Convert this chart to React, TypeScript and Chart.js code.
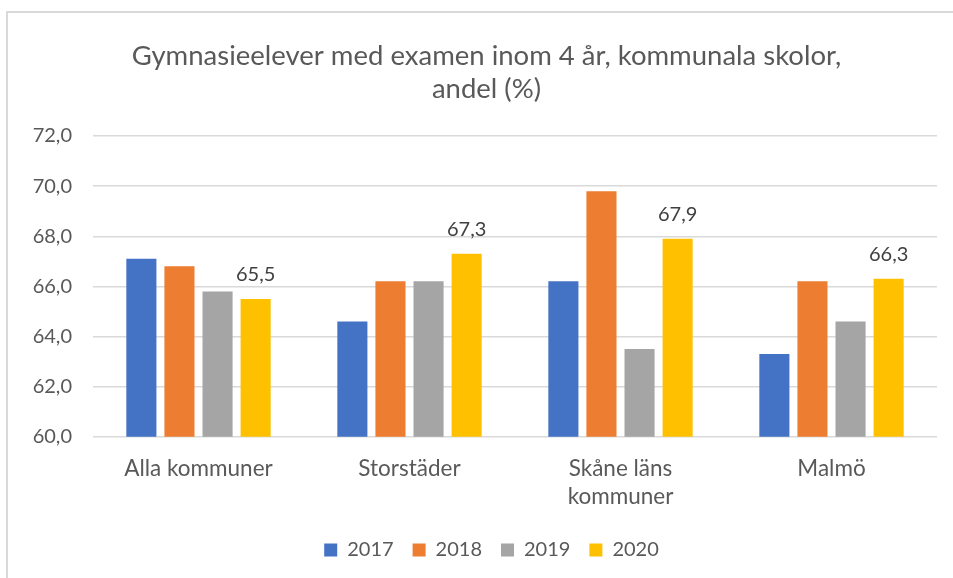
import React, { useEffect, useRef } from "react";
import { Chart, registerables } from "chart.js";

Chart.register(...registerables);

const categories: (string | string[])[] = [
  "Alla kommuner",
  "Storstäder",
  ["Skåne läns", "kommuner"],
  "Malmö",
];
const years = ["2017", "2018", "2019", "2020"];
const values2017 = [67.1, 64.6, 66.2, 63.3];
const values2018 = [66.8, 66.2, 69.8, 66.2];
const values2019 = [65.8, 66.2, 63.5, 64.6];
const values2020 = [65.5, 67.3, 67.9, 66.3];
const colors = ["#4472C4", "#ED7D31", "#A5A5A5", "#FFC000"];
const titleLines = [
  "Gymnasieelever med examen inom 4 år, kommunala skolor,",
  "andel (%)",
];

const FONT = "Lato, 'Open Sans', sans-serif";
const fmt = (v: number) => v.toFixed(1).replace(".", ",");

const labelPlugin = {
  id: "lastLabels",
  afterLayout(chart: any) {
    if (chart.legend) {
      chart.legend.left += 13;
      chart.legend.right += 13;
    }
    if (chart.titleBlock) {
      chart.titleBlock.left += 8;
      chart.titleBlock.right += 8;
    }
  },
  afterDatasetsDraw(chart: any) {
    const ctx = chart.ctx;
    const di = 3;
    const meta = chart.getDatasetMeta(di);
    const data = chart.data.datasets[di].data as number[];
    ctx.save();
    ctx.font = `20px ${FONT}`;
    ctx.fillStyle = "#404040";
    ctx.textAlign = "center";
    ctx.textBaseline = "middle";
    meta.data.forEach((bar: any, i: number) => {
      ctx.fillText(fmt(data[i]), bar.x, bar.y - 24);
    });
    ctx.restore();
  },
};

export default function App() {
  const ref = useRef<HTMLCanvasElement>(null);
  useEffect(() => {
    if (!ref.current) return;
    const series = [values2017, values2018, values2019, values2020];
    const chart = new Chart(ref.current, {
      type: "bar",
      data: {
        labels: categories,
        datasets: series.map((d, i) => ({
          label: years[i],
          data: d,
          backgroundColor: colors[i],
          categoryPercentage: 0.722,
          barPercentage: 0.79,
        })),
      },
      options: {
        animation: false,
        responsive: false,
        maintainAspectRatio: false,
        layout: { padding: { left: 20, right: 16, top: 40, bottom: 8 } },
        plugins: {
          title: {
            display: true,
            text: titleLines,
            color: "#595959",
            font: { family: FONT, size: 27.5, weight: "normal", lineHeight: 1.2 },
            padding: { top: 0, bottom: 30 },
          },
          legend: {
            display: true,
            position: "bottom",
            labels: {
              color: "#595959",
              font: { family: FONT, size: 20 },
              boxWidth: 13,
              boxHeight: 13,
              padding: 19,
            },
          },
          tooltip: { enabled: false },
        },
        scales: {
          x: {
            grid: { display: false },
            border: { display: false },
            ticks: {
              color: "#595959",
              font: { family: FONT, size: 22.5, lineHeight: 1.25 },
              padding: 10,
              maxRotation: 0,
            },
          },
          y: {
            min: 60,
            max: 72,
            afterFit: (s: any) => {
              s.width = 73;
            },
            grid: { color: "#d9d9d9", lineWidth: 1.5, drawTicks: false },
            border: { display: false },
            ticks: {
              stepSize: 2,
              color: "#595959",
              font: { family: FONT, size: 20 },
              padding: 21,
              callback: (v: any) => fmt(Number(v)),
            },
          },
        },
      },
      plugins: [labelPlugin],
    });
    return () => chart.destroy();
  }, []);
  return (
    <div style={{ position: "fixed", left: 0, top: 0, width: 953, height: 578, overflow: "hidden", background: "#fff" }}>
      <div
        style={{
          position: "absolute",
          left: 6,
          top: 11,
          width: 980,
          height: 620,
          border: "2px solid #d9d9d9",
          boxSizing: "border-box",
        }}
      />
      <canvas ref={ref} width={953} height={578} style={{ position: "absolute", left: 0, top: 0 }} />
    </div>
  );
}
